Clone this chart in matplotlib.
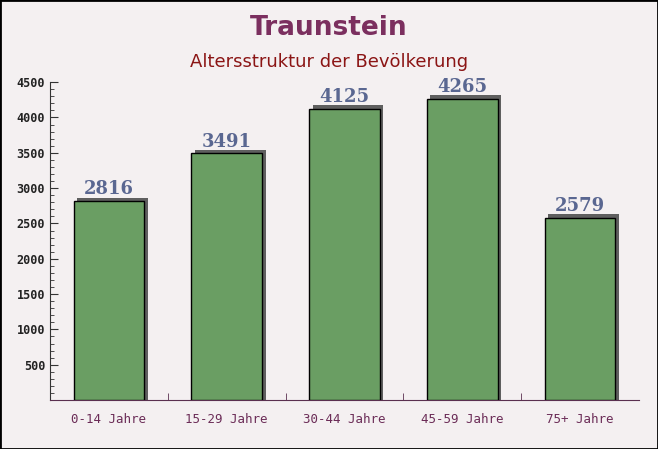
import numpy as np
import matplotlib.pyplot as plt
from matplotlib.patches import Rectangle

# data
categories = ["0-14 Jahre", "15-29 Jahre", "30-44 Jahre", "45-59 Jahre", "75+ Jahre"]
values = [2816, 3491, 4125, 4265, 2579]
yticks = [500, 1000, 1500, 2000, 2500, 3000, 3500, 4000, 4500]

bg = "#f4f0f1"
bar_color = "#6a9e63"

fig = plt.figure(figsize=(6.58, 4.49), dpi=100)
fig.patch.set_facecolor(bg)
fig.patches.append(Rectangle((0, 0), 1, 1, transform=fig.transFigure,
                             fill=False, edgecolor="black", linewidth=2))

ax = fig.add_axes([0.076, 0.109, 0.895, 0.708])
ax.set_facecolor(bg)
ax.patch.set_alpha(0)

x = np.arange(len(categories))
ax.set_xlim(-0.5, len(categories) - 0.5)
ax.set_ylim(0, 4500)

# shadow then bars
ax.bar(x + 0.03, np.array(values) + 50, width=0.6, color="#5f5f5f", zorder=2)
ax.bar(x, values, width=0.6, color=bar_color, edgecolor="black", linewidth=1, zorder=3)

for xi, v in zip(x, values):
    ax.annotate(str(v), (xi, v), xytext=(0, 2), textcoords="offset points",
                ha="center", va="bottom", fontsize=13, fontweight="bold",
                family="DejaVu Serif", color="#5a6791", zorder=4)

ax.set_xticks(x)
ax.set_xticklabels(categories, family="DejaVu Sans Mono", fontsize=9, color="#6b2c57")
ax.set_xticks(np.arange(0.5, len(categories) - 0.5, 1), minor=True)
ax.tick_params(axis="x", which="major", length=0, pad=9)
ax.tick_params(axis="x", which="minor", direction="in", length=5, color="#5a3050")

ax.set_yticks(yticks)
ax.set_yticklabels([str(t) for t in yticks], family="DejaVu Sans Mono",
                   fontsize=8.5, fontweight="bold", color="#222222")
ax.set_yticks(np.arange(100, 4500, 100), minor=True)
ax.tick_params(axis="y", which="major", direction="in", length=6, color="#333333")
ax.tick_params(axis="y", which="minor", direction="in", length=3, color="#333333")

for s in ["top", "right"]:
    ax.spines[s].set_visible(False)
ax.spines["left"].set_color("#333333")
ax.spines["bottom"].set_color("#5a3050")

fig.text(0.5, 0.938, "Traunstein", ha="center", va="center", fontsize=19,
         fontweight="bold", color="#7b2f5f")
fig.text(0.5, 0.862, "Altersstruktur der Bevölkerung", ha="center", va="center",
         fontsize=13, color="#8b1515")

fig.savefig("out.png", dpi=100, facecolor=bg)
